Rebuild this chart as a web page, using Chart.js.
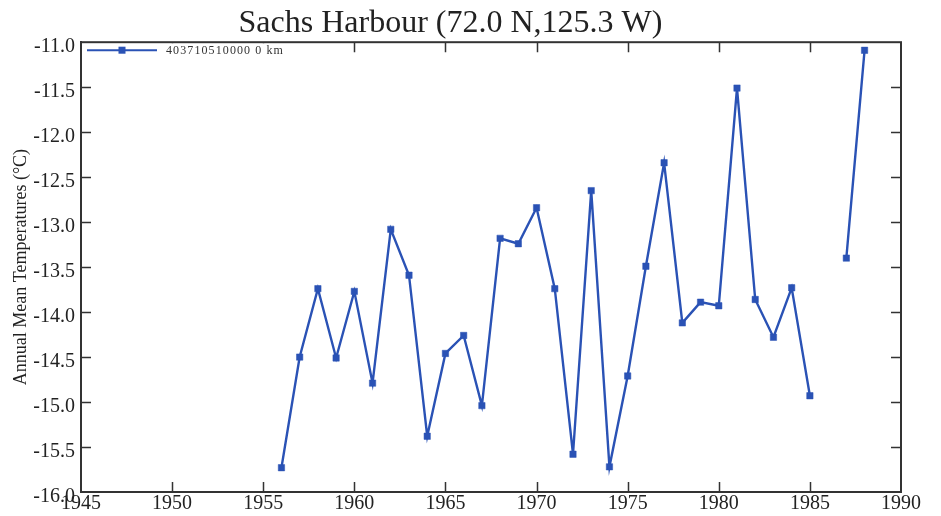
<!DOCTYPE html>
<html>
<head>
<meta charset="utf-8">
<script src="https://cdn.jsdelivr.net/npm/chart.js@4/dist/chart.umd.min.js"></script>
<style>
  html, body { margin: 0; padding: 0; background: #ffffff; }
  #wrap { width: 941px; height: 516px; }
</style>
</head>
<body>
<div id="wrap"><canvas id="c" width="941" height="516"></canvas></div>
<script>
const chartTitle = 'Sachs Harbour (72.0 N,125.3 W)';
const yAxisTitle = 'Annual Mean Temperatures (°C)';
const seriesLabel = '403710510000 0 km';
const years = [1956,1957,1958,1959,1960,1961,1962,1963,1964,1965,1966,1967,1968,1969,1970,1971,1972,1973,1974,1975,1976,1977,1978,1979,1980,1981,1982,1983,1984,1985,1986,1987,1988];
const temps = [-15.73,-14.50,-13.74,-14.51,-13.77,-14.79,-13.08,-13.59,-15.38,-14.46,-14.26,-15.04,-13.18,-13.24,-12.84,-13.74,-15.58,-12.65,-15.72,-14.71,-13.49,-12.34,-14.12,-13.89,-13.93,-11.51,-13.86,-14.28,-13.73,-14.93,null,-13.40,-11.09];
const xMin = 1945, xMax = 1990, xStep = 5;
const yMin = -16, yMax = -11, yStep = 0.5;

const SERIF = '"Liberation Serif", "Times New Roman", serif';
const BLUE = '#2a52b5';
const AXIS = '#333333';

const framePlugin = {
  id: 'frameTicks',
  afterDraw(chart) {
    const ctx = chart.ctx;
    const {left, right, top, bottom} = chart.chartArea;
    const xs = chart.scales.x, ys = chart.scales.y;
    ctx.save();
    ctx.strokeStyle = AXIS;
    ctx.lineWidth = 1.5;
    const tl = 10;
    ctx.beginPath();
    xs.ticks.forEach(t => {
      if (t.value <= xMin || t.value >= xMax) return;
      const px = Math.round(xs.getPixelForValue(t.value)) + 0.5;
      ctx.moveTo(px, bottom); ctx.lineTo(px, bottom - tl);
      ctx.moveTo(px, top); ctx.lineTo(px, top + tl);
    });
    ys.ticks.forEach(t => {
      if (t.value <= yMin || t.value >= yMax) return;
      const py = Math.round(ys.getPixelForValue(t.value)) + 0.5;
      ctx.moveTo(left, py); ctx.lineTo(left + tl, py);
      ctx.moveTo(right, py); ctx.lineTo(right - tl, py);
    });
    ctx.stroke();

    // legend (white box, line + marker + label) in the upper-left of the plot
    const ds = chart.data.datasets[0];
    const ly = top + 8;
    const lx0 = left + 6, lx1 = left + 76;
    ctx.fillStyle = '#ffffff';
    ctx.fillRect(left + 1, top + 1, 215, 17);
    ctx.strokeStyle = ds.borderColor;
    ctx.lineWidth = 2;
    ctx.beginPath(); ctx.moveTo(lx0, ly); ctx.lineTo(lx1, ly); ctx.stroke();
    ctx.fillStyle = ds.pointBackgroundColor;
    const mx = (lx0 + lx1) / 2;
    ctx.fillRect(mx - 3.5, ly - 3.5, 7, 7);
    ctx.fillStyle = '#333';
    ctx.font = '12px ' + SERIF;
    try { ctx.letterSpacing = '1.1px'; } catch (e) {}
    ctx.textBaseline = 'middle';
    ctx.textAlign = 'left';
    ctx.fillText(ds.label, lx1 + 9, ly + 1);
    try { ctx.letterSpacing = '0px'; } catch (e) {}

    // plot frame
    ctx.strokeStyle = AXIS;
    ctx.lineWidth = 2;
    ctx.strokeRect(left, top, right - left, bottom - top);
    ctx.restore();
  }
};

new Chart(document.getElementById('c'), {
  type: 'line',
  data: {
    datasets: [{
      label: seriesLabel,
      data: years.map((y, i) => ({x: y, y: temps[i]})),
      borderColor: BLUE,
      backgroundColor: BLUE,
      pointBackgroundColor: BLUE,
      pointBorderColor: BLUE,
      pointStyle: 'rect',
      pointRadius: 4.5,
      pointBorderWidth: 0.5,
      borderWidth: 2.4,
      spanGaps: false,
      tension: 0
    }]
  },
  options: {
    responsive: false,
    animation: false,
    devicePixelRatio: 1,
    layout: { padding: { left: 0, right: 40, top: 0, bottom: 0 } },
    plugins: {
      legend: { display: false },
      tooltip: { enabled: false },
      title: {
        display: true,
        text: chartTitle,
        color: '#222',
        font: { family: SERIF, size: 32, weight: 'normal', lineHeight: 1.1 },
        padding: { top: 6, bottom: 1 }
      }
    },
    scales: {
      x: {
        type: 'linear',
        min: xMin, max: xMax,
        afterFit(s) { s.height = 24; },
        ticks: {
          stepSize: xStep,
          color: '#222',
          font: { family: SERIF, size: 20 },
          padding: 0,
          maxRotation: 0,
          autoSkip: false,
          callback: v => String(v)
        },
        grid: { drawOnChartArea: false, drawTicks: false },
        border: { display: true, color: AXIS, width: 2 }
      },
      y: {
        type: 'linear',
        min: yMin, max: yMax,
        afterFit(s) { s.width = 81; },
        ticks: {
          stepSize: yStep,
          color: '#222',
          font: { family: SERIF, size: 20 },
          padding: 6,
          labelOffset: 5,
          autoSkip: false,
          callback: v => v.toFixed(1)
        },
        title: {
          display: true,
          text: yAxisTitle,
          color: '#222',
          font: { family: SERIF, size: 18 },
          padding: { top: 10, bottom: 0 }
        },
        grid: { drawOnChartArea: false, drawTicks: false },
        border: { display: true, color: AXIS, width: 2 }
      }
    }
  },
  plugins: [framePlugin]
});
</script>
</body>
</html>
